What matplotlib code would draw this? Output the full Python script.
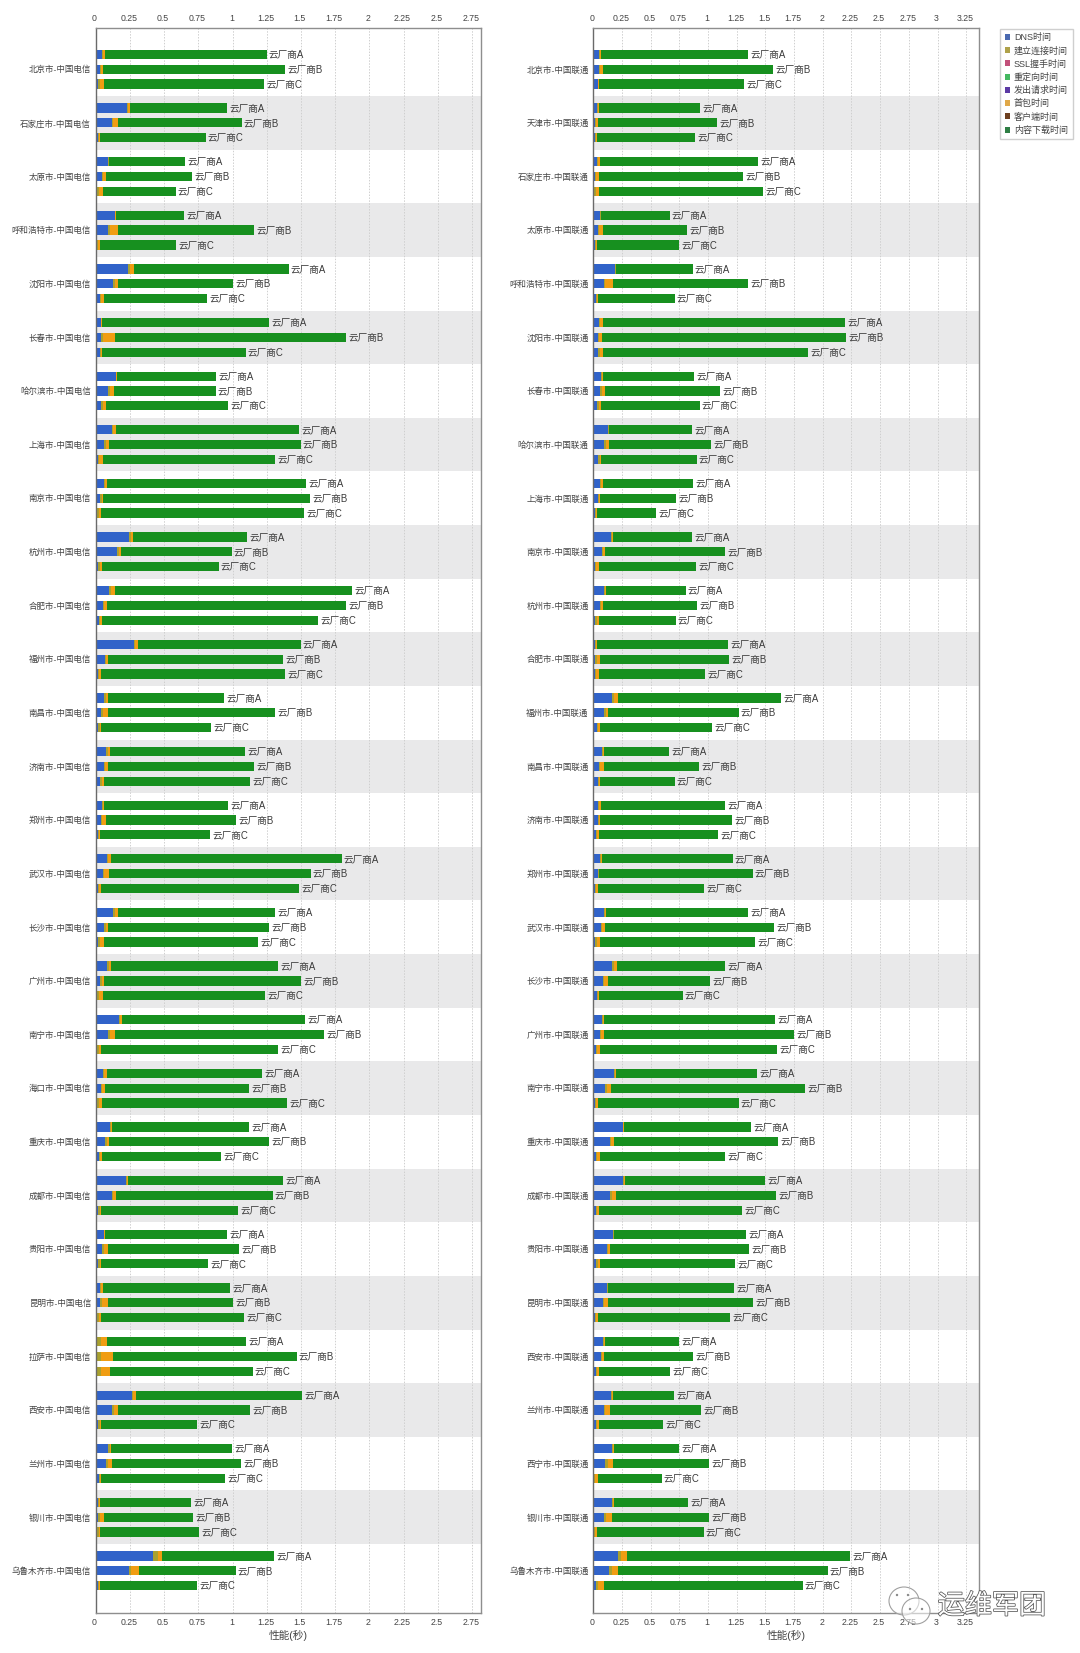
import matplotlib
matplotlib.use("Agg")
import matplotlib.pyplot as plt
import numpy as np
from matplotlib.patches import Patch, Ellipse
from matplotlib.transforms import ScaledTranslation
import matplotlib.patheffects as pe

plt.rcParams['font.family'] = ['Liberation Sans', 'Noto Sans CJK SC', 'DejaVu Sans']

W, H = 1080, 1653
vendors = ['云厂商A', '云厂商B', '云厂商C']
legend_names = ['DNS时间', '建立连接时间', 'SSL握手时间', '重定向时间', '发出请求时间', '首包时间', '客户端时间', '内容下载时间']
legend_colors = ['#4A69B0', '#AFA24A', '#C2507A', '#44B860', '#5C3AA5', '#E0A848', '#6E4020', '#2E7E44']
C_DNS, C_CONN, C_FIRST, C_DOWN = '#3163C9', '#A9A12F', '#F09D12', '#17901F'

ct_cities = ['北京市', '石家庄市', '太原市', '呼和浩特市', '沈阳市', '长春市', '哈尔滨市', '上海市', '南京市', '杭州市',
             '合肥市', '福州市', '南昌市', '济南市', '郑州市', '武汉市', '长沙市', '广州市', '南宁市', '海口市',
             '重庆市', '成都市', '贵阳市', '昆明市', '拉萨市', '西安市', '兰州市', '银川市', '乌鲁木齐市']
cu_cities = ['北京市', '天津市', '石家庄市', '太原市', '呼和浩特市', '沈阳市', '长春市', '哈尔滨市', '上海市', '南京市',
             '杭州市', '合肥市', '福州市', '南昌市', '济南市', '郑州市', '武汉市', '长沙市', '广州市', '南宁市',
             '重庆市', '成都市', '贵阳市', '昆明市', '西安市', '兰州市', '西宁市', '银川市', '乌鲁木齐市']

ct_dns = [[.045,.028,.018],[.227,.118,.018],[.088,.045,.012],[.138,.093,.010],[.234,.126,.030],[.037,.037,.032],
          [.146,.093,.041],[.120,.063,.015],[.058,.034,.010],[.244,.158,.020],[.100,.051,.027],[.280,.068,.015],
          [.061,.041,.020],[.078,.058,.032],[.046,.037,.015],[.080,.051,.015],[.127,.061,.020],[.085,.034,.012],
          [.171,.090,.012],[.054,.037,.010],[.102,.071,.024],[.224,.117,.020],[.058,.046,.020],[.034,.029,.010],
          [.010,.010,.010],[.266,.120,.020],[.093,.076,.024],[.015,.020,.012],[.418,.244,.015]]
ct_conn = [[.010,.010,.012],[.010,.012,.006],[.006,.012,.012],[.004,.014,.008],[.014,.012,.010],[.005,.016,.007],
           [.006,.012,.012],[.010,.012,.012],[.010,.009,.011],[.011,.010,.010],[.012,.011,.008],[.010,.009,.010],
           [.011,.014,.009],[.010,.011,.011],[.008,.012,.008],[.012,.013,.010],[.011,.011,.012],[.010,.009,.012],
           [.008,.013,.010],[.010,.011,.012],[.008,.010,.010],[.007,.011,.008],[.005,.013,.008],[.008,.014,.011],
           [.029,.029,.031],[.010,.012,.009],[.008,.012,.008],[.008,.012,.009],[.040,.016,.006]]
ct_first = [[.013,.012,.030],[.013,.031,.006],[.006,.018,.026],[.004,.054,.010],[.031,.028,.018],[.004,.086,.007],
            [.006,.029,.023],[.019,.023,.027],[.015,.011,.020],[.021,.017,.019],[.027,.021,.011],[.017,.013,.014],
            [.021,.038,.012],[.017,.019,.020],[.009,.027,.011],[.023,.034,.016],[.023,.021,.026],[.015,.015,.027],
            [.011,.036,.019],[.019,.023,.024],[.010,.017,.015],[.006,.021,.009],[.005,.034,.011],[.009,.045,.020],
            [.041,.088,.061],[.019,.029,.012],[.011,.032,.009],[.011,.026,.014],[.028,.057,.007]]
ct_total = [[1.250,1.387,1.233],[.959,1.067,.803],[.652,.705,.584],[.647,1.160,.590],[1.410,1.004,.812],[1.270,1.829,1.095],
            [.880,.876,.970],[1.485,1.498,1.312],[1.540,1.566,1.524],[1.107,.993,.898],[1.876,1.829,1.627],[1.498,1.368,1.383],
            [.941,1.312,.846],[1.090,1.158,1.129],[.970,1.029,.834],[1.798,1.571,1.485],[1.312,1.266,1.188],[1.334,1.502,1.237],
            [1.532,1.671,1.332],[1.215,1.122,1.400],[1.122,1.268,.915],[1.368,1.293,1.039],[.958,1.046,.820],[.983,1.005,1.083],
            [1.100,1.468,1.146],[1.510,1.129,.741],[.998,1.061,.944],[.700,.710,.755],[1.305,1.022,.740]]

cu_dns = [[.051,.045,.036],[.030,.012,.015],[.030,.015,.009],[.060,.039,.015],[.186,.090,.023],[.049,.038,.044],
          [.067,.061,.035],[.128,.096,.044],[.058,.038,.017],[.151,.073,.012],[.096,.055,.017],[.017,.017,.015],
          [.163,.096,.032],[.078,.049,.041],[.041,.038,.023],[.055,.041,.017],[.096,.067,.017],[.166,.084,.032],
          [.073,.055,.023],[.183,.102,.017],[.256,.142,.023],[.259,.145,.023],[.174,.116,.026],[.119,.084,.017],
          [.087,.067,.023],[.154,.090,.026],[.163,.099,.006],[.165,.093,.009],[.216,.135,.024]]
cu_conn = [[.008,.012,.005],[.007,.010,.007],[.009,.011,.012],[.005,.012,.008],[.007,.015,.007],[.011,.012,.012],
           [.007,.012,.011],[.006,.012,.010],[.010,.009,.006],[.009,.010,.012],[.008,.010,.011],[.007,.012,.011],
           [.014,.011,.009],[.007,.012,.008],[.010,.009,.010],[.008,.006,.009],[.008,.012,.012],[.012,.012,.009],
           [.009,.012,.012],[.007,.014,.009],[.005,.012,.012],[.007,.014,.010],[.005,.010,.010],[.005,.012,.009],
           [.007,.010,.010],[.007,.014,.009],[.007,.025,.012],[.006,.018,.009],[.025,.024,.016]]
cu_first = [[.010,.024,.004],[.008,.017,.008],[.015,.019,.027],[.004,.030,.010],[.008,.063,.008],[.021,.023,.028],
            [.007,.032,.021],[.006,.029,.016],[.019,.014,.006],[.014,.019,.025],[.009,.019,.019],[.008,.032,.023],
            [.038,.021,.014],[.008,.029,.009],[.019,.011,.019],[.010,.005,.012],[.009,.026,.026],[.031,.032,.011],
            [.011,.023,.023],[.008,.038,.012],[.004,.029,.026],[.007,.039,.016],[.004,.016,.019],[.004,.032,.012],
            [.008,.016,.016],[.008,.038,.014],[.007,.045,.023],[.006,.054,.012],[.056,.057,.056]]
cu_total = [[1.351,1.568,1.315],[.928,1.081,.886],[1.438,1.303,1.480],[.664,.820,.748],[.865,1.351,.709],[2.195,2.206,1.872],
            [.878,1.105,.927],[.860,1.029,.901],[.872,.721,.547],[.860,1.148,.895],[.805,.907,.718],[1.177,1.183,.974],
            [1.637,1.265,1.032],[.660,.922,.709],[1.148,1.209,1.090],[1.215,1.387,.965],[1.346,1.573,1.413],[1.148,1.020,.779],
            [1.587,1.750,1.602],[1.427,1.846,1.265],[1.378,1.613,1.148],[1.500,1.593,1.297],[1.331,1.358,1.238],[1.230,1.392,1.195],
            [.750,.872,.672],[.703,.942,.610],[.747,1.009,.596],[.826,1.009,.961],[2.240,2.042,1.823]]

ct_ticks = [0, .25, .5, .75, 1, 1.25, 1.5, 1.75, 2, 2.25, 2.5, 2.75]
cu_ticks = [0, .25, .5, .75, 1, 1.25, 1.5, 1.75, 2, 2.25, 2.5, 2.75, 3, 3.25]
tick_text = {0: '0', .25: '0.25', .5: '0.5', .75: '0.75', 1: '1', 1.25: '1.25', 1.5: '1.5', 1.75: '1.75',
             2: '2', 2.25: '2.25', 2.5: '2.5', 2.75: '2.75', 3: '3', 3.25: '3.25'}

fig = plt.figure(figsize=(W / 100, H / 100), dpi=100)
TOP, BOTTOM = 28.3, 1613.0
GROUP_PX = 53.63
Y_TOP = -(69.2 - TOP) / GROUP_PX
Y_BOT = Y_TOP + (BOTTOM - TOP) / GROUP_PX


def panel(x0, x1, xmax, cities, carrier, dns, conn, first, total, ticks):
    ax = fig.add_axes([x0 / W, 1 - BOTTOM / H, (x1 - x0) / W, (BOTTOM - TOP) / H])
    ax.set_xlim(0, xmax)
    ax.set_ylim(Y_BOT, Y_TOP)
    for i in range(1, len(cities), 2):
        ax.axhspan(i - .5, i + .5, color='#E9E9EA', lw=0, zorder=0)
    ax.set_axisbelow(True)
    ax.grid(axis='x', color='#CFCFCF', lw=.7, ls=(0, (1.5, 1.5)))
    ax.grid(axis='y', visible=False)
    offs = np.array([-.276, 0, .276])
    for g in range(len(cities)):
        y = g + offs
        d, c, f, t = map(np.array, (dns[g], conn[g], first[g], total[g]))
        ax.barh(y, d, .172, color=C_DNS, lw=0, zorder=2)
        ax.barh(y, c, .172, left=d, color=C_CONN, lw=0, zorder=2)
        ax.barh(y, f, .172, left=d + c, color=C_FIRST, lw=0, zorder=2)
        ax.barh(y, t - d - c - f, .172, left=d + c + f, color=C_DOWN, lw=0, zorder=2)
        for yy, tt, v in zip(y, t, vendors):
            ax.annotate(v, (tt, yy), xytext=(1.6, -0.5), textcoords='offset points', va='center', ha='left',
                        fontsize=6.9, color='#3a3a3a', zorder=3)
    ax.set_yticks(range(len(cities)))
    ax.set_yticklabels([c + '-' + carrier for c in cities], fontsize=6.1, color='#444444')
    ax.set_xticks(ticks)
    ax.set_xticklabels([tick_text[t] for t in ticks], fontsize=6.3, color='#444444')
    ax.tick_params(axis='x', which='both', length=0, top=True, labeltop=True, bottom=True, labelbottom=True, pad=3.5)
    ax.tick_params(axis='y', length=0, pad=3.4)
    shift = ScaledTranslation(-1.2 / 100, 0, fig.dpi_scale_trans)
    for tk in ax.xaxis.get_major_ticks():
        tk.label1.set_transform(tk.label1.get_transform() + shift)
        tk.label2.set_transform(tk.label2.get_transform() + shift)
    for side, sp in ax.spines.items():
        sp.set_color('#8E8E8E')
        sp.set_linewidth(1.0)
    ax.spines['left'].set_color('#6A6A6A')
    ax.set_xlabel('性能(秒)', fontsize=7.7, color='#444444', labelpad=2.5)
    return ax


panel(95.7, 481.0, 2.816, ct_cities, '中国电信', ct_dns, ct_conn, ct_first, ct_total, ct_ticks)
panel(593.4, 979.4, 3.365, cu_cities, '中国联通', cu_dns, cu_conn, cu_first, cu_total, cu_ticks)

handles = [Patch(facecolor=c, edgecolor='none', label=n) for c, n in zip(legend_colors, legend_names)]
fig.legend(handles=handles, loc='upper left', bbox_to_anchor=(1000 / W, 1 - 28.5 / H), borderaxespad=0,
           fontsize=6.5, frameon=True, fancybox=False, edgecolor='#CFCFCF', framealpha=1,
           handlelength=.65, handleheight=.65, handletextpad=.4, labelspacing=.46, borderpad=.5,
           labelcolor='#444444')

# watermark
pxs = lambda x, y: (x / W, 1 - y / H)
wm_edge = '#a0a0a0'
for cx, cy, ww, hh in [(904, 1601, 30, 28), (916, 1611, 28, 26)]:
    fig.add_artist(Ellipse(pxs(cx, cy), ww / W, hh / H, transform=fig.transFigure, fc=(1, 1, 1, .55), ec=wm_edge, lw=.8, zorder=5))
for dx, dy in [(897, 1595), (908, 1595), (910, 1609), (922, 1609)]:
    fig.add_artist(Ellipse(pxs(dx, dy), 2.4 / W, 2.4 / H, transform=fig.transFigure, fc='#888888', ec='none', zorder=6))
fig.text(992 / W, 1 - 1606 / H, '运维军团', fontsize=19.5, ha='center', va='center', color='white', zorder=6,
         family=['Noto Sans CJK SC'],
         path_effects=[pe.withStroke(linewidth=1.1, foreground='#555555')])

fig.savefig('out.png', dpi=100, facecolor='white')
